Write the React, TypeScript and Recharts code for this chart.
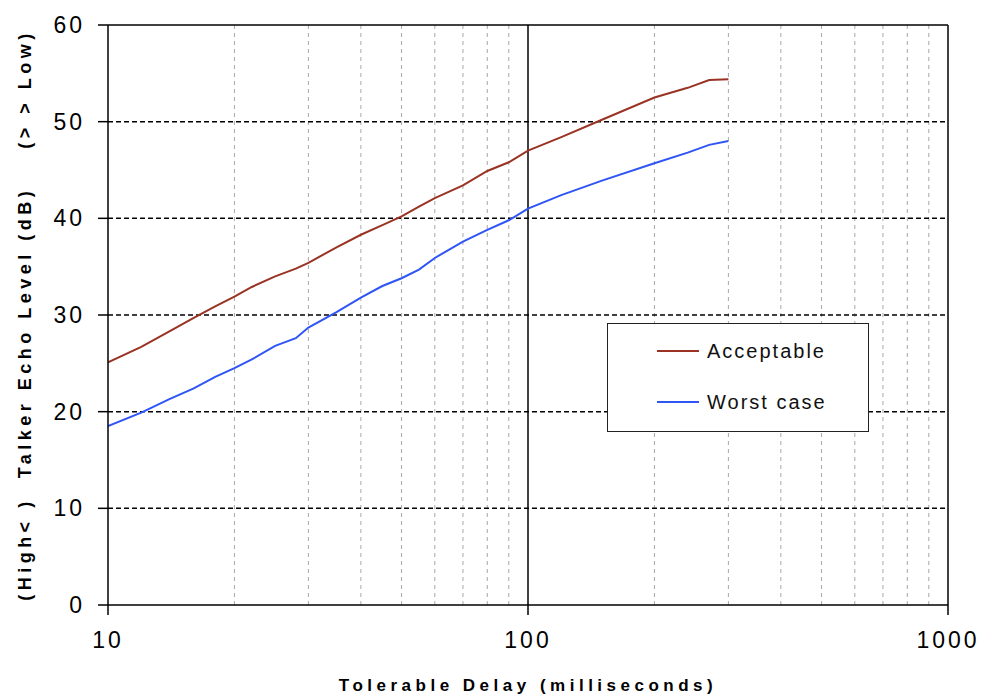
import React from "react";
import {
  LineChart,
  Line,
  XAxis,
  YAxis,
  ReferenceLine,
  Legend,
} from "recharts";

// delay in milliseconds (log scale)
const delays = [10, 12, 14, 16, 18, 20, 22, 25, 28, 30, 35, 40, 45, 50, 55, 60, 70, 80, 90, 100, 120, 150, 200, 240, 270, 300];
const acceptable = [25.1, 26.7, 28.3, 29.7, 30.9, 31.9, 32.9, 34.0, 34.8, 35.4, 37.0, 38.3, 39.3, 40.2, 41.2, 42.1, 43.4, 44.9, 45.8, 47.0, 48.4, 50.2, 52.5, 53.5, 54.3, 54.4];
const worstCase = [18.5, 19.9, 21.3, 22.4, 23.6, 24.5, 25.4, 26.8, 27.6, 28.7, 30.3, 31.8, 33.0, 33.8, 34.7, 35.9, 37.6, 38.8, 39.8, 41.0, 42.4, 43.9, 45.7, 46.8, 47.6, 48.0];

const xTicks = [10, 100, 1000];
const yTicks = [0, 10, 20, 30, 40, 50, 60];
const minorX = [20, 30, 40, 50, 60, 70, 80, 90, 200, 300, 400, 500, 600, 700, 800, 900];
const dashedY = [10, 20, 30, 40, 50];

const series = [
  { key: "acceptable", name: "Acceptable", color: "#9a3324" },
  { key: "worst", name: "Worst case", color: "#2f55f5" },
];

const data = delays.map((d, i) => ({
  delay: d,
  acceptable: acceptable[i],
  worst: worstCase[i],
}));

const font = "'Liberation Sans', Arial, sans-serif";
const tickStyle = { fill: "#000", fontSize: 23, fontFamily: font, letterSpacing: 3 };

function LegendBox() {
  return (
    <div
      style={{
        width: 262,
        height: 109,
        boxSizing: "border-box",
        border: "1.5px solid #222",
        background: "#fff",
        fontFamily: font,
        fontSize: 20,
        letterSpacing: 2,
        color: "#111",
        paddingTop: 14,
      }}
    >
      {series.map((s, i) => (
        <div
          key={s.key}
          style={{ display: "flex", alignItems: "center", height: 26, marginTop: i ? 25 : 0 }}
        >
          <div style={{ width: 42, height: 2, background: s.color, marginLeft: 49, marginRight: 8 }} />
          <span>{s.name}</span>
        </div>
      ))}
    </div>
  );
}

export default function App() {
  return (
    <div style={{ position: "absolute", left: 0, top: 0, width: 985, height: 696, background: "#fff" }}>
      <LineChart
        width={985}
        height={696}
        data={data}
        margin={{ top: 25, right: 37, bottom: 0, left: 0 }}
      >
        <XAxis
          dataKey="delay"
          type="number"
          scale="log"
          domain={[10, 1000]}
          ticks={xTicks}
          allowDataOverflow
          height={91}
          tickSize={10}
          tickMargin={17}
          axisLine={{ stroke: "#000", strokeWidth: 1.5 }}
          tickLine={{ stroke: "#000", strokeWidth: 1.5 }}
          tick={tickStyle}
          label={(props: any) => {
            const vb = props.viewBox;
            return (
              <text
                x={vb.x + vb.width / 2}
                y={691}
                textAnchor="middle"
                fontFamily={font}
                fontSize={17}
                fontWeight="bold"
                fill="#000"
                style={{ letterSpacing: 4.5 }}
              >
                Tolerable Delay (milliseconds)
              </text>
            );
          }}
        />
        <YAxis
          type="number"
          domain={[0, 60]}
          ticks={yTicks}
          width={108}
          tickSize={10}
          tickMargin={13}
          axisLine={{ stroke: "#000", strokeWidth: 1.5 }}
          tickLine={{ stroke: "#000", strokeWidth: 1.5 }}
          tick={tickStyle}
          label={(props: any) => {
            const vb = props.viewBox;
            const cy = vb.y + vb.height / 2;
            return (
              <text
                x={25}
                y={cy}
                transform={`rotate(-90, 25, ${cy})`}
                textAnchor="middle"
                dominantBaseline="central"
                fontFamily={font}
                fontSize={18}
                fontWeight="bold"
                fill="#000"
                style={{ letterSpacing: 4.5, whiteSpace: "pre" }}
              >
                {"(High< )  Talker Echo Level (dB)    (> > Low)"}
              </text>
            );
          }}
        />
        {minorX.map((v) => (
          <ReferenceLine key={`mx${v}`} x={v} stroke="#a8a8a8" strokeDasharray="4 4" strokeWidth={1} />
        ))}
        {dashedY.map((v) => (
          <ReferenceLine key={`dy${v}`} y={v} stroke="#000" strokeDasharray="5 3" strokeWidth={1.5} />
        ))}
        <ReferenceLine x={100} stroke="#000" strokeWidth={1.5} />
        <ReferenceLine x={1000} stroke="#000" strokeWidth={1.5} />
        <ReferenceLine y={60} stroke="#000" strokeWidth={1.5} />
        {series.map((s) => (
          <Line
            key={s.key}
            dataKey={s.key}
            name={s.name}
            type="linear"
            stroke={s.color}
            strokeWidth={2}
            dot={false}
            isAnimationActive={false}
          />
        ))}
        <Legend
          layout="horizontal"
          verticalAlign="middle"
          align="center"
          content={() => <LegendBox />}
          wrapperStyle={{ left: 607, top: 323, width: 262, height: 109 }}
        />
      </LineChart>
    </div>
  );
}
